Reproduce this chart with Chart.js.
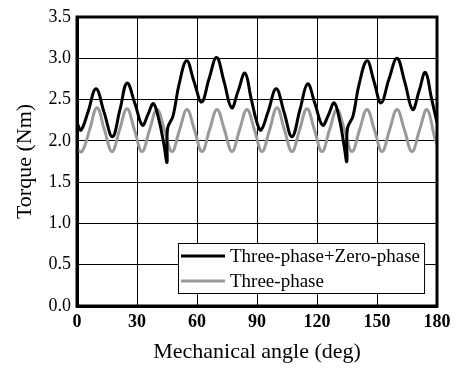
<!DOCTYPE html>
<html>
<head>
<meta charset="utf-8">
<script src="https://cdn.jsdelivr.net/npm/chart.js@4/dist/chart.umd.min.js"></script>
<style>
  html, body { margin: 0; padding: 0; background: #fff; }
  #wrap { width: 459px; height: 370px; }
</style>
</head>
<body>
<div id="wrap"><canvas id="c" width="459" height="370"></canvas></div>
<script>
// 数据：机械角度 (deg) 与转矩 (Nm)
const seriesLabels = ['Three-phase+Zero-phase', 'Three-phase'];

// Three-phase+Zero-phase (黑线)
const zeroAngle = [
  0, 2, 5.5, 9.5, 13.5, 17.7, 21.5, 25, 29, 32.7, 35.5, 38.2, 41, 43.5, 45,
  45.3, 48, 51, 54.8, 58.5, 62.3, 66, 69.8, 73.5, 77.3, 80.5, 84, 87,
  90, 92, 95.5, 99.6, 103.5, 107.5, 111.5, 115.3, 119, 122.8, 125.8, 128.6, 131.3, 133.5, 134.9,
  135.2, 138, 141, 145, 148.5, 152, 156, 160, 163.8, 167.8, 171, 174.2, 177.2, 180
];
const zeroTorque = [
  2.22, 2.13, 2.35, 2.63, 2.35, 2.05, 2.38, 2.70, 2.45, 2.19, 2.32, 2.45, 2.25, 1.95, 1.74,
  2.15, 2.30, 2.68, 2.97, 2.72, 2.47, 2.75, 3.01, 2.72, 2.40, 2.60, 2.82, 2.52,
  2.22, 2.13, 2.35, 2.63, 2.35, 2.05, 2.38, 2.69, 2.45, 2.19, 2.32, 2.46, 2.25, 1.95, 1.75,
  2.15, 2.30, 2.68, 2.97, 2.72, 2.46, 2.75, 3.00, 2.72, 2.38, 2.60, 2.83, 2.52, 2.22
];

// Three-phase (灰线)
const threeAngle = [
  0, 2.5, 6.25, 10, 13.75, 17.5, 21.25, 25, 28.75, 32.5, 36.25, 40, 43.75,
  47.5, 51.25, 55, 58.75, 62.5, 66.25, 70, 73.75, 77.5, 81.25, 85, 88.75,
  92.5, 96.25, 100, 103.75, 107.5, 111.25, 115, 118.75, 122.5, 126.25, 130, 133.75,
  137.5, 141.25, 145, 148.75, 152.5, 156.25, 160, 163.75, 167.5, 171.25, 175, 178.75, 180
];
const threeTorque = [
  1.90, 1.87, 2.13, 2.40, 2.13, 1.87, 2.13, 2.39, 2.13, 1.87, 2.13, 2.38, 2.13,
  1.87, 2.13, 2.38, 2.13, 1.87, 2.13, 2.38, 2.13, 1.87, 2.13, 2.38, 2.13,
  1.87, 2.13, 2.40, 2.13, 1.87, 2.13, 2.39, 2.13, 1.87, 2.13, 2.38, 2.13,
  1.87, 2.13, 2.38, 2.13, 1.87, 2.13, 2.38, 2.13, 1.87, 2.13, 2.38, 2.05, 1.95
];

const xTicks = [0, 30, 60, 90, 120, 150, 180];
const yTicks = [0, 0.5, 1.0, 1.5, 2.0, 2.5, 3.0, 3.5];

const serif = '"Liberation Serif", "Times New Roman", serif';
const toXY = (xs, ys) => xs.map((x, i) => ({ x: x, y: ys[i] }));

// 绘图区外框 + 图例（图例放在绘图区右下角）
const framePlugin = {
  id: 'frameLegend',
  afterDatasetsDraw(chart) {
    const { ctx, chartArea } = chart;
    ctx.save();
    ctx.strokeStyle = '#000';
    ctx.lineWidth = 3;
    ctx.strokeRect(chartArea.left, chartArea.top,
      chartArea.right - chartArea.left, chartArea.bottom - chartArea.top);

    // legend
    ctx.font = '19px ' + serif;
    const ds = chart.data.datasets;
    const textW = Math.max(...ds.map(d => ctx.measureText(d.label).width));
    const boxL = 178, boxT = 243, rowH = 25;
    const boxW = 52 + textW + 4, boxH = 50;
    ctx.fillStyle = '#fff';
    ctx.fillRect(boxL, boxT, boxW, boxH);
    ctx.lineWidth = 1;
    ctx.strokeStyle = '#000';
    ctx.strokeRect(boxL + 0.5, boxT + 0.5, boxW, boxH);
    ds.forEach((d, i) => {
      const y = boxT + 13 + i * rowH;
      ctx.strokeStyle = d.borderColor;
      ctx.lineWidth = 3;
      ctx.beginPath();
      ctx.moveTo(boxL + 3, y);
      ctx.lineTo(boxL + 47, y);
      ctx.stroke();
      ctx.fillStyle = '#000';
      ctx.textBaseline = 'middle';
      ctx.fillText(d.label, boxL + 52, y + 1);
    });
    ctx.restore();
  }
};

new Chart(document.getElementById('c'), {
  type: 'scatter',
  data: {
    datasets: [
      {
        label: seriesLabels[0],
        data: toXY(zeroAngle, zeroTorque),
        showLine: true,
        borderColor: '#000000',
        borderWidth: 3,
        pointRadius: 0,
        tension: 0.4,
        fill: false
      },
      {
        label: seriesLabels[1],
        data: toXY(threeAngle, threeTorque),
        showLine: true,
        borderColor: '#9a9a9a',
        borderWidth: 3,
        pointRadius: 0,
        tension: 0.4,
        fill: false
      }
    ]
  },
  options: {
    responsive: false,
    animation: false,
    layout: { padding: { left: 0, top: 17, right: 22, bottom: 0 } },
    plugins: { legend: { display: false }, tooltip: { enabled: false } },
    scales: {
      x: {
        type: 'linear',
        min: 0, max: 180,
        afterBuildTicks: s => { s.ticks = xTicks.map(v => ({ value: v })); },
        afterFit: s => { s.height = 64; },
        grid: { color: '#000', lineWidth: 1, drawTicks: false },
        border: { color: '#000', width: 3 },
        ticks: { color: '#000', padding: 6, font: { family: serif, size: 18, weight: 'bold' }, maxRotation: 0 },
        title: {
          display: true,
          text: 'Mechanical angle (deg)',
          color: '#000',
          font: { family: serif, size: 22 },
          padding: { top: 0, bottom: 5 }
        }
      },
      y: {
        min: 0, max: 3.5,
        afterBuildTicks: s => { s.ticks = yTicks.map(v => ({ value: v })); },
        afterFit: s => { s.width = 77; },
        grid: { color: '#000', lineWidth: 1, drawTicks: false },
        border: { color: '#000', width: 3 },
        ticks: {
          color: '#000', padding: 6,
          font: { family: serif, size: 18 },
          callback: v => Number(v).toFixed(1)
        },
        title: {
          display: true,
          text: 'Torque (Nm)',
          color: '#000',
          font: { family: serif, size: 22 },
          padding: { top: 12, bottom: 0 }
        }
      }
    }
  },
  plugins: [framePlugin]
});
</script>
</body>
</html>
